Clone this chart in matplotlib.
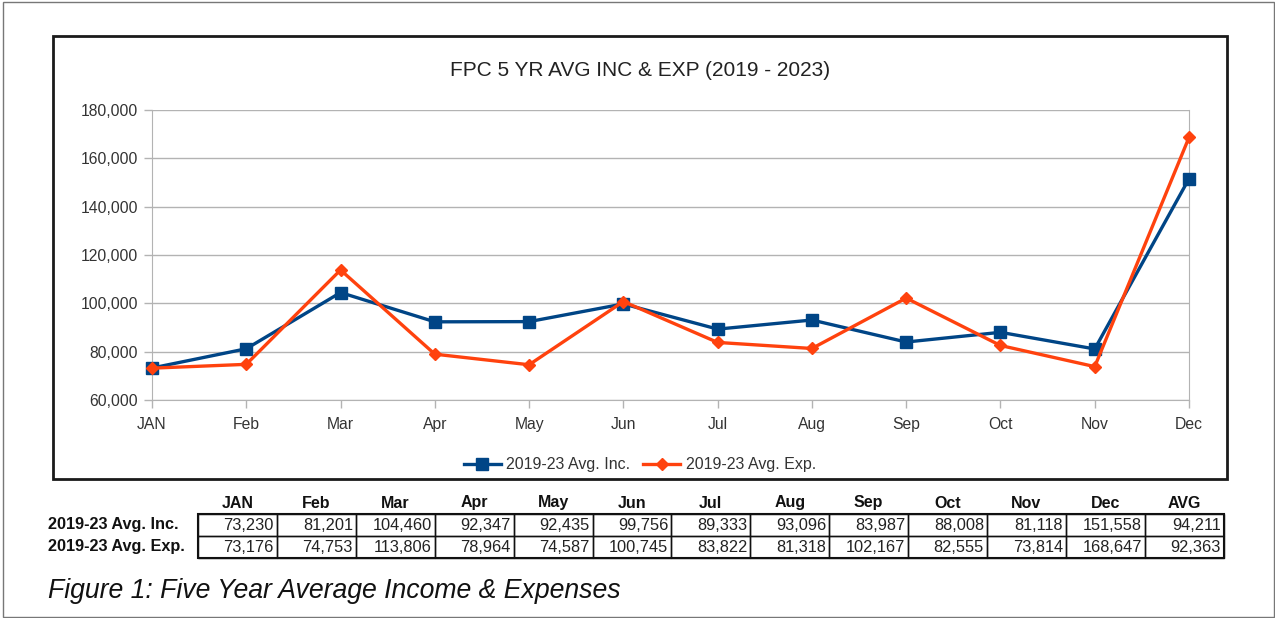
import matplotlib.pyplot as plt
from matplotlib.patches import Rectangle
from matplotlib.ticker import FuncFormatter

plt.rcParams['font.family'] = ['Liberation Sans', 'DejaVu Sans']

months = ["JAN", "Feb", "Mar", "Apr", "May", "Jun", "Jul", "Aug", "Sep", "Oct", "Nov", "Dec"]
inc = [73230, 81201, 104460, 92347, 92435, 99756, 89333, 93096, 83987, 88008, 81118, 151558]
exp = [73176, 74753, 113806, 78964, 74587, 100745, 83822, 81318, 102167, 82555, 73814, 168647]
inc_avg = 94211
exp_avg = 92363
inc_label = "2019-23 Avg. Inc."
exp_label = "2019-23 Avg. Exp."

W, H = 1275, 618
fig = plt.figure(figsize=(W / 100, H / 100), dpi=100)


def fx(x):
    return x / W


def fy(y):
    return 1 - y / H


# outer page frame and chart frame
fig.patches.append(Rectangle((fx(3), fy(617)), fx(1271), 615 / H, transform=fig.transFigure,
                             fill=False, ec="#777777", lw=1.0))
fig.patches.append(Rectangle((fx(53), fy(479)), fx(1174), 443 / H, transform=fig.transFigure,
                             fill=False, ec="#1a1a1a", lw=2.0))

# plot area
ax = fig.add_axes([fx(152), fy(400), fx(1189 - 152), (400 - 110) / H])
x = list(range(len(months)))
blue = "#004586"
orange = "#ff420e"
ax.plot(x, inc, color=blue, lw=2.4, marker="s", markersize=8, clip_on=False, zorder=3, label=inc_label)
ax.plot(x, exp, color=orange, lw=2.4, marker="D", markersize=6.5, clip_on=False, zorder=4, label=exp_label)

ax.set_xlim(0, 11)
ax.set_ylim(60000, 180000)
ax.set_yticks(range(60000, 180001, 20000))
ax.set_xticks(x)
ax.set_xticklabels(months)
ax.yaxis.set_major_formatter(FuncFormatter(lambda v, p: f"{int(v):,}"))
ax.grid(True, axis="y", color="#b3b3b3", lw=1.0)
ax.set_axisbelow(True)
ax.spines["top"].set_visible(False)
for s in ["left", "bottom", "right"]:
    ax.spines[s].set_color("#b3b3b3")
ax.tick_params(axis="both", colors="#b3b3b3", labelcolor="#333333", labelsize=11.3, length=6, width=1.0)
ax.tick_params(axis="x", pad=6)
ax.tick_params(axis="y", pad=4)

fig.text(fx(640), fy(71), "FPC 5 YR AVG INC & EXP (2019 - 2023)", ha="center", va="center",
         fontsize=15, color="#222222")

fig.legend(loc="center", bbox_to_anchor=(fx(640), fy(465)), ncol=2, frameon=False,
           fontsize=11.5, handlelength=2.3, handletextpad=0.35, columnspacing=0.8,
           labelcolor="#333333")

# data table under the chart
col_left = 198
col_w = 78.9
heads = months + ["AVG"]
rows = [(inc_label, inc + [inc_avg]), (exp_label, exp + [exp_avg])]
row_top = [514, 536]
row_h = 22
for j, h in enumerate(heads):
    fig.text(fx(col_left + col_w * (j + 0.5)), fy(503), h, ha="center", va="center",
             fontsize=11.5, fontweight="bold", color="#111111")
for i, (lab, vals) in enumerate(rows):
    yc = row_top[i] + row_h / 2
    fig.text(fx(48), fy(yc), lab, ha="left", va="center", fontsize=11.7, fontweight="bold", color="#111111")
    for j, v in enumerate(vals):
        fig.text(fx(col_left + col_w * (j + 1) - 3), fy(yc), f"{v:,}", ha="right", va="center",
                 fontsize=11.8, color="#222222")
        fig.patches.append(Rectangle((fx(col_left + col_w * j), fy(row_top[i] + row_h)), fx(col_w), row_h / H,
                                     transform=fig.transFigure, fill=False, ec="#111111", lw=1.0))
fig.patches.append(Rectangle((fx(col_left), fy(558)), fx(col_w * 13), 44 / H,
                             transform=fig.transFigure, fill=False, ec="#111111", lw=1.5))

fig.text(fx(48), fy(591), "Figure 1: Five Year Average Income & Expenses", ha="left", va="center",
         fontsize=19.2, style="italic", color="#111111")

fig.savefig("out.png", dpi=100)
